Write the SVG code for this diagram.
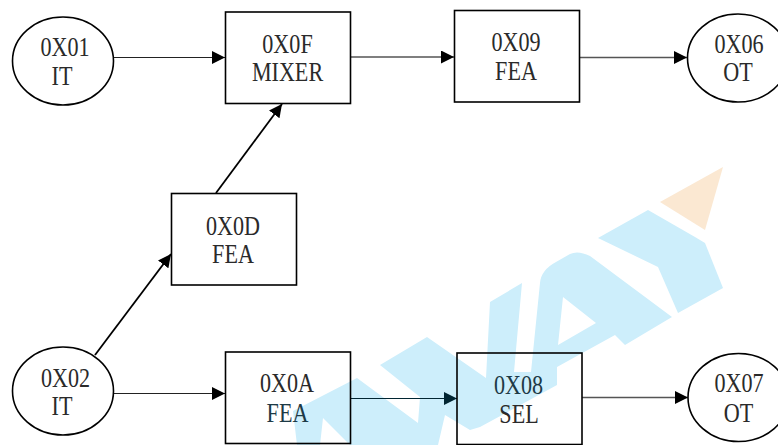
<svg xmlns="http://www.w3.org/2000/svg" width="778" height="445" viewBox="0 0 778 445">
<defs>
<marker id="arr" markerUnits="userSpaceOnUse" markerWidth="14" markerHeight="14" refX="13" refY="6.500" orient="auto"><path d="M0 0L13 6.500L0 13Z" fill="#000"/></marker>
<marker id="arrd" markerUnits="userSpaceOnUse" markerWidth="14" markerHeight="14" refX="13" refY="6.500" orient="auto"><path d="M0 0L13 6.500L0 13Z" fill="#012532"/></marker>
</defs>
<style>
.n{fill:none;stroke:#000;stroke-width:1.6}
.c{fill:none;stroke:#222;stroke-width:1;marker-end:url(#arr)}
.g{stroke:#555;stroke-width:1.4}
.b{stroke:#000;stroke-width:1.8}
.d{stroke:#012532;marker-end:url(#arrd)}
text{font-family:"Liberation Serif","Times New Roman",serif;font-size:28px;fill:#2a2a2a;text-anchor:middle}
.t{fill:#1d3a46}
</style>
<rect width="778" height="445" fill="#fff"/>
<g id="watermark">
<path d="M723 167L660 202L705 230Z" fill="#fbe8d2"/>
<path fill="#cdeefb" d="M598 238L648 210L695 237L705 243L723 288L678 313L658 267Z"/>
<path fill="#cdeefb" fill-rule="evenodd" d="M293 411L357 378L418 423L420 397L380 365L427 337L486 378L490 302L522 283L514 372L531 372L540 283Q541 270 556 262L570 254Q578 250 590 256L672 317L625 345L615 335L557 367L557 385L480 427L470 430L445 415L438 445L350 445L323 418L320 445L297 445ZM563 297L558 345L596 323Z"/>
</g>
<g id="connectors">
<path class="c" d="M114 57.500H225"/>
<path class="c g" d="M351 57H454"/>
<path class="c g" d="M580 57.500H687"/>
<path class="c b" d="M216 193L282 104"/>
<path class="c b" d="M95 355L171 254"/>
<path class="c" d="M114 393.500H225"/>
<path class="c d" d="M351 398.500H457"/>
<path class="c g" d="M582 397.500H688"/>
</g>
<g id="n01"><ellipse class="n" cx="63" cy="61" rx="50.500" ry="44"/><text transform="translate(65 55.500) scale(.79 1)">0X01</text><text transform="translate(62 85) scale(.79 1)">IT</text></g>
<g id="n0f"><rect class="n" x="225.500" y="12" width="125" height="91.500"/><text transform="translate(287.500 53) scale(.79 1)">0X0F</text><text transform="translate(287.500 81) scale(.79 1)">MIXER</text></g>
<g id="n09"><rect class="n" x="454.500" y="10.500" width="125" height="91.500"/><text transform="translate(516 51) scale(.79 1)">0X09</text><text transform="translate(516 80) scale(.79 1)">FEA</text></g>
<g id="n06"><ellipse class="n" cx="738" cy="58" rx="50.500" ry="44"/><text transform="translate(739 53) scale(.79 1)">0X06</text><text transform="translate(738 81) scale(.79 1)">OT</text></g>
<g id="n0d"><rect class="n" x="171.500" y="193.500" width="125" height="91.500"/><text transform="translate(233 235) scale(.79 1)">0X0D</text><text transform="translate(233 263) scale(.79 1)">FEA</text></g>
<g id="n02"><ellipse class="n" cx="63" cy="391" rx="50.500" ry="44"/><text transform="translate(65.500 386.500) scale(.79 1)">0X02</text><text transform="translate(62 415) scale(.79 1)">IT</text></g>
<g id="n0a"><rect class="n" x="225.500" y="352" width="125" height="91.500"/><text transform="translate(287 391.500) scale(.79 1)">0X0A</text><text class="t" transform="translate(287.500 422) scale(.79 1)">FEA</text></g>
<g id="n08"><rect class="n" x="457" y="353" width="125" height="91.500"/><text class="t" transform="translate(518.500 394) scale(.79 1)">0X08</text><text transform="translate(519 423) scale(.79 1)">SEL</text></g>
<g id="n07"><ellipse class="n" cx="738.500" cy="397.500" rx="50.500" ry="44"/><text transform="translate(739 392) scale(.79 1)">0X07</text><text transform="translate(738.500 421.500) scale(.79 1)">OT</text></g>
</svg>
